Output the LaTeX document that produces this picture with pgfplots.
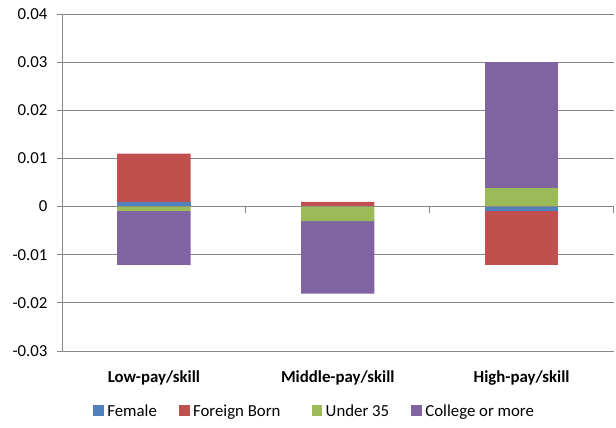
\documentclass[border=0pt]{standalone}
\usepackage{pgfplots}
\pgfplotsset{compat=1.18}
\usepackage{fontspec}
\setmainfont{Carlito}
\definecolor{cFemale}{HTML}{4F81BD}
\definecolor{cForeign}{HTML}{C0504D}
\definecolor{cUnder}{HTML}{9BBB59}
\definecolor{cCollege}{HTML}{8064A2}
\definecolor{gridc}{RGB}{134,134,134}
\newcommand\cf{\fontsize{16.8}{20}\selectfont}
\newcommand\sq[1]{\textcolor{#1}{\rule{10.7pt}{10.7pt}}\hspace{3.5pt}}
\begin{document}
\begin{tikzpicture}
\path[use as bounding box] (0pt,0pt) rectangle (616pt,428pt);
\pgfplotsset{
  frame/.style={
    at={(62pt,77pt)}, anchor=south west,
    scale only axis, width=551.5pt, height=337pt,
    xmin=-0.5, xmax=2.5, ymin=-0.03, ymax=0.04,
    enlargelimits=false,
  },
  common/.style={frame, ybar stacked, bar width=73.4pt},
}
% positive parts
\begin{axis}[common,
  axis lines=left,
  axis line style={draw=gridc, line width=0.9pt, -},
  ymajorgrids, grid style={draw=gridc, line width=0.9pt},
  ytick={-0.03,-0.02,-0.01,0,0.01,0.02,0.03,0.04},
  scaled y ticks=false,
  yticklabel style={/pgf/number format/fixed, /pgf/number format/precision=2, /pgf/number format/assume math mode=true, font=\cf, anchor=east, xshift=-6pt},
  ytick style={draw=gridc, line width=0.9pt},
  ytick align=outside, major tick length=5pt,
  xtick={0,1,2}, xticklabels={Low-pay/skill, Middle-pay/skill, High-pay/skill},
  xtick style={draw=none},
  xticklabel style={font=\cf\bfseries, anchor=base, yshift=-29pt},
]
\addplot[fill=cFemale, draw=none] coordinates {(0,0.001) (1,0) (2,0)};
\addplot[fill=cForeign, draw=none] coordinates {(0,0.010) (1,0.001) (2,0)};
\addplot[fill=cUnder, draw=none] coordinates {(0,0) (1,0) (2,0.0039)};
\addplot[fill=cCollege, draw=none] coordinates {(0,0) (1,0) (2,0.0261)};
\end{axis}
% negative parts
\begin{axis}[common,
  axis x line=middle, axis y line=none,
  axis line style={draw=gridc, line width=0.9pt, -},
  xtick={0.5,1.5,2.5}, xticklabels={},
  xtick style={draw=gridc, line width=0.9pt},
  xtick align=outside, major tick length=6pt,
]
\addplot[fill=cFemale, draw=none] coordinates {(0,0) (1,0) (2,-0.001)};
\addplot[fill=cForeign, draw=none] coordinates {(0,0) (1,0) (2,-0.0111)};
\addplot[fill=cUnder, draw=none] coordinates {(0,-0.0009) (1,-0.003) (2,0)};
\addplot[fill=cCollege, draw=none] coordinates {(0,-0.0112) (1,-0.0151) (2,0)};
\end{axis}
% legend
\begin{axis}[frame, hide axis,
  legend columns=4,
  legend image code/.code={},
  legend style={at={(axis description cs:0.0562,-0.178)}, anchor=west, draw=none, fill=none, font=\cf,
    inner sep=0pt,
    /tikz/every even column/.append style={column sep=22pt},
    nodes={inner sep=0pt}},
]
\addlegendimage{draw=none}
\addlegendentry{\sq{cFemale}Female}
\addlegendimage{draw=none}
\addlegendentry{\sq{cForeign}Foreign Born\kern9pt\null}
\addlegendimage{draw=none}
\addlegendentry{\sq{cUnder}Under 35}
\addlegendimage{draw=none}
\addlegendentry{\sq{cCollege}College or more}
\end{axis}
\end{tikzpicture}
\end{document}
